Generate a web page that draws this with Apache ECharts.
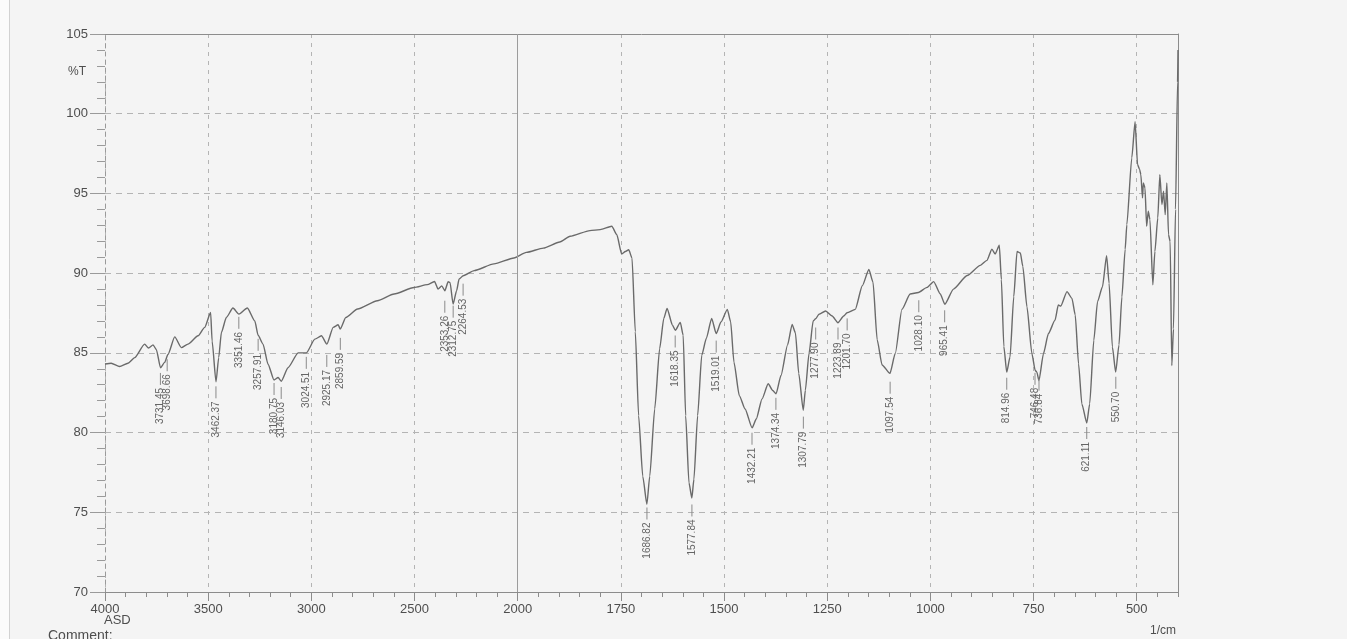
<!DOCTYPE html>
<html>
<head>
<meta charset="utf-8">
<script src="https://cdn.jsdelivr.net/npm/echarts@6/dist/echarts.min.js"></script>
<style>
  html, body { margin:0; padding:0; background:#f4f4f4; }
  #chart { width:1347px; height:639px; }
</style>
</head>
<body>
<div id="chart"></div>
<script>
// ---- Data (wavenumber in 1/cm, transmittance in %T) ----
const wavenumbers = [4000,3970,3929,3889,3856,3808,3789,3767,3751,3731,3711,3695,3662,3630,3598,3549,3517,3488,3481,3462,3449,3436,3412,3380,3351,3310,3274,3258,3234,3210,3181,3161,3146,3113,3064,3024,2983,2951,2925,2894,2870,2860,2833,2776,2680,2599,2502,2438,2403,2386,2368,2353,2337,2328,2313,2296,2284,2264,2211,2115,2018,1979,1938,1898,1873,1825,1800,1772,1760,1748,1739,1731,1723,1715,1707,1697,1687,1680,1668,1656,1646,1638,1625,1618,1606,1599,1593,1585,1578,1573,1564,1554,1543,1530,1519,1507,1492,1484,1476,1463,1449,1432,1422,1408,1393,1382,1374,1362,1346,1335,1327,1319,1308,1303,1294,1284,1278,1270,1254,1238,1224,1210,1202,1182,1165,1149,1139,1129,1117,1098,1085,1069,1049,1029,1008,992,976,965,944,911,879,863,851,843,833,828,822,815,807,798,790,782,776,766,754,746,742,737,726,714,698,690,684,669,657,649,641,633,621,614,604,595,583,573,567,559,551,543,536,528,524,512,504,498,493,490,486,484,480,476,472,468,461,456,449,444,439,435,431,427,423,419,415,411,406,401,400];
const transmittance = [84.3,84.35,84.14,84.35,84.7,85.55,85.3,85.5,85.2,84.07,84.4,84.9,86.0,85.33,85.55,86.07,86.6,87.53,85.75,83.18,84.7,86.28,87.22,87.81,87.43,87.81,87.0,86.1,85.55,84.29,83.3,83.45,83.22,84.07,85.0,85.0,85.86,86.07,85.55,86.6,86.76,86.5,87.22,87.75,88.27,88.69,89.1,89.28,89.48,89.0,89.2,88.9,89.46,89.42,88.06,88.9,89.63,89.84,90.16,90.58,90.95,91.3,91.57,91.95,92.31,92.67,92.73,92.94,92.42,91.2,91.36,91.47,90.95,86.32,81.06,77.27,75.5,77.27,81.48,85.27,87.16,87.79,86.74,86.42,86.91,86.1,81.06,76.85,75.9,77.07,81.06,84.85,85.9,87.16,86.21,86.95,87.73,86.95,84.42,82.32,81.48,80.3,80.85,82.11,83.06,82.64,82.43,83.58,85.5,86.78,86.25,83.71,81.4,82.65,84.98,87.0,87.14,87.42,87.63,87.31,86.89,87.31,87.52,87.73,89.21,90.23,89.43,85.83,84.24,83.71,84.98,87.73,88.69,88.79,89.11,89.47,88.69,88.05,89.0,89.85,90.49,90.8,91.5,91.2,91.75,89.6,85.4,83.79,84.74,88.52,91.36,91.26,90.42,87.89,84.95,83.9,83.79,83.27,84.95,86.21,87.05,88.0,87.94,88.84,88.42,87.37,84.32,81.8,80.6,81.8,85.79,88.21,89.15,91.1,89.37,85.37,83.79,85.5,88.5,91.5,93.04,97.23,99.5,96.81,96.5,96.18,94.72,95.66,95.35,92.94,93.88,93.35,89.27,91.36,93.46,96.18,94.3,95.14,93.67,95.66,92.41,91.99,84.2,86.5,94.0,102.0,104.0];

// Peak annotations: wavenumber and %T level where the leader line starts
const peakWavenumbers = [3731.45,3698.66,3462.37,3351.46,3257.91,3180.75,3146.03,3024.51,2925.17,2859.59,2353.26,2312.75,2264.53,1686.82,1618.35,1577.84,1519.01,1432.21,1374.34,1307.79,1277.90,1223.89,1201.70,1097.54,1028.10,965.41,814.96,746.48,736.84,621.11,550.70];
const peakLeaderT = [83.74,84.6,82.9,87.26,85.88,83.11,82.86,84.75,84.87,85.94,88.27,87.96,89.34,75.3,86.09,75.49,85.77,79.99,82.18,81.0,86.59,86.59,87.16,83.19,88.3,87.67,83.44,83.75,83.38,80.35,83.5];

const xTickWavenumbers = [4000,3500,3000,2500,2000,1750,1500,1250,1000,750,500];
const yTicks = [70,75,80,85,90,95,100,105];

// Axis with a scale change at 2000 1/cm (2x compression above 2000)
function toX(wn) { return wn >= 2000 ? (4000 - wn) / 2 : 1000 + (2000 - wn); }
function fromX(t) { return t <= 1000 ? 4000 - 2 * t : 2000 - (t - 1000); }

const X_MIN = toX(4000), X_MAX = toX(400);
const lineData = wavenumbers.map((w, i) => [toX(w), transmittance[i]]);
const peakData = peakWavenumbers.map((w, i) => [toX(w), peakLeaderT[i]]);

const axisColor = '#8c8c8c';
const labelColor = '#4e4e4e';
const FONT = '"Liberation Sans", Arial, sans-serif';

const chart = echarts.init(document.getElementById('chart'), null, {renderer: 'canvas'});
chart.setOption({
  animation: false,
  backgroundColor: '#f4f4f4',
  grid: { left: 105, right: 169, top: 34, bottom: 47, show: false },
  xAxis: [
    {
      type: 'value', position: 'bottom', min: X_MIN, max: X_MAX, interval: 250,
      axisLine: { show: true, onZero: false, lineStyle: { color: axisColor, width: 1 } },
      axisTick: { show: true, length: 9, lineStyle: { color: axisColor } },
      axisLabel: {
        show: true, margin: 11, color: labelColor, fontSize: 13, fontFamily: FONT,
        showMaxLabel: false,
        formatter: v => { const w = Math.round(fromX(v)); return xTickWavenumbers.includes(w) ? String(w) : ''; }
      },
      splitLine: { show: true, lineStyle: { color: '#b4b4b4', type: [4, 5], width: 1 } }
    },
    {
      type: 'value', position: 'bottom', min: X_MIN, max: X_MAX, interval: 50,
      axisLine: { show: false, onZero: false },
      axisTick: { show: true, length: 5, lineStyle: { color: axisColor } },
      axisLabel: { show: false },
      splitLine: { show: false }
    },
    {
      type: 'value', position: 'top', min: X_MIN, max: X_MAX,
      axisLine: { show: true, onZero: false, lineStyle: { color: axisColor, width: 1 } },
      axisTick: { show: false }, axisLabel: { show: false }, splitLine: { show: false }
    }
  ],
  yAxis: [
    {
      type: 'value', position: 'left', min: yTicks[0], max: yTicks[yTicks.length - 1], interval: 5,
      axisLine: { show: true, onZero: false, lineStyle: { color: '#9a9a9a', type: [4, 4] } },
      axisTick: { show: true, length: 15, lineStyle: { color: '#9a9a9a' } },
      minorTick: { show: true, splitNumber: 5, length: 8, lineStyle: { color: '#9a9a9a' } },
      axisLabel: { show: true, margin: 17, color: labelColor, fontSize: 13, fontFamily: FONT },
      splitLine: { show: true, showMaxLine: false, showMinLine: false, lineStyle: { color: '#b4b4b4', type: [6, 5], width: 1 } }
    },
    {
      type: 'value', position: 'right', min: yTicks[0], max: yTicks[yTicks.length - 1],
      axisLine: { show: true, onZero: false, lineStyle: { color: axisColor, width: 1 } },
      axisTick: { show: false }, axisLabel: { show: false }, splitLine: { show: false }
    }
  ],
  series: [
    {
      type: 'line', xAxisIndex: 0, yAxisIndex: 0, data: lineData,
      showSymbol: false, smooth: 0.2, smoothMonotone: 'x', clip: false,
      lineStyle: { color: '#6a6a6a', width: 1.4 },
      markLine: {
        silent: true, symbol: 'none', label: { show: false },
        lineStyle: { color: '#9c9c9c', type: 'solid', width: 1 },
        data: [{ xAxis: toX(2000) }]
      },
      z: 3
    },
    {
      type: 'custom', xAxisIndex: 0, yAxisIndex: 0, data: peakData,
      encode: { x: 0, y: 1 }, clip: false, z: 4,
      renderItem: function (params, api) {
        const p = api.coord([api.value(0), api.value(1)]);
        const label = peakWavenumbers[params.dataIndex].toFixed(2);
        return {
          type: 'group',
          children: [
            { type: 'line', shape: { x1: p[0], y1: p[1], x2: p[0], y2: p[1] + 12 },
              style: { stroke: '#8a8a8a', lineWidth: 1 } },
            { type: 'text', x: p[0], y: p[1] + 15, rotation: Math.PI / 2,
              style: { text: label, align: 'right', verticalAlign: 'middle',
                       fill: '#656565', font: '10px "Liberation Sans", Arial, sans-serif' } }
          ]
        };
      }
    }
  ],
  graphic: [
    { type: 'rect', left: 0, top: 0, shape: { width: 9, height: 639 }, style: { fill: '#fbfbfb' }, z: -1 },
    { type: 'line', shape: { x1: 9.5, y1: 0, x2: 9.5, y2: 639 }, style: { stroke: '#d2d2d2', lineWidth: 1 } },
    { type: 'text', left: 68, top: 66, style: { text: '%T', fill: labelColor, font: '12px "Liberation Sans", Arial, sans-serif' } },
    { type: 'text', left: 104, top: 614, style: { text: 'ASD', fill: labelColor, font: '13px "Liberation Sans", Arial, sans-serif' } },
    { type: 'text', left: 48, top: 629, style: { text: 'Comment:', fill: labelColor, font: '14px "Liberation Sans", Arial, sans-serif' } },
    { type: 'text', left: 1150, top: 625, style: { text: '1/cm', fill: labelColor, font: '12px "Liberation Sans", Arial, sans-serif' } }
  ]
});
</script>
</body>
</html>
